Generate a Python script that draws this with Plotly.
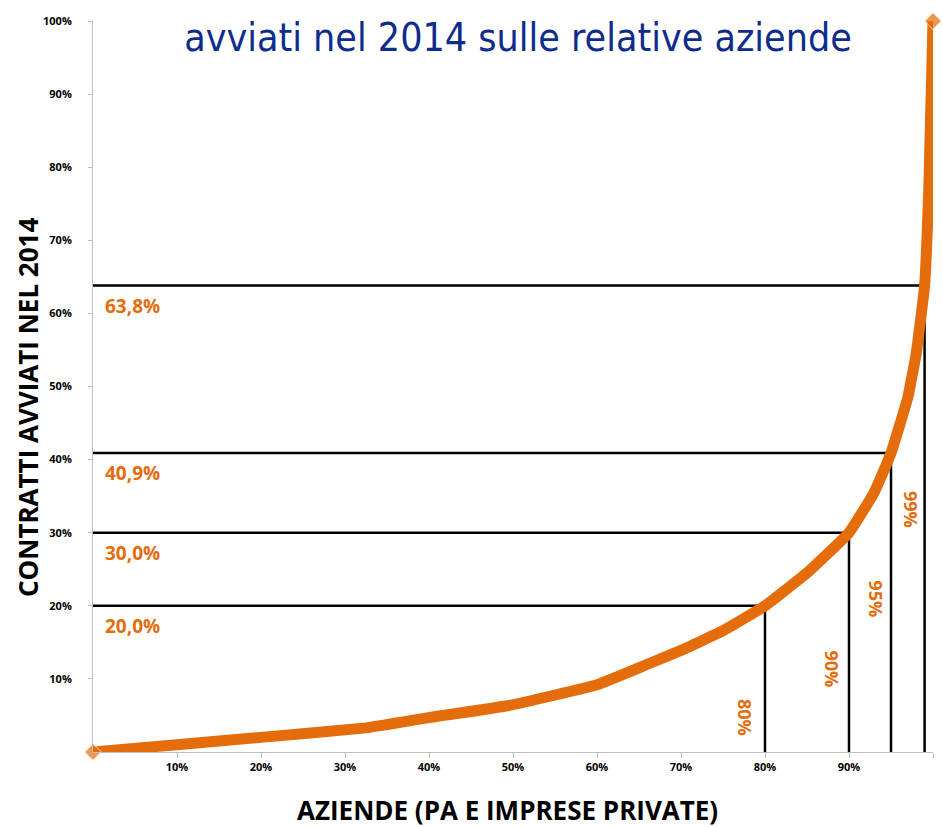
import plotly.graph_objects as go

# Cumulative share of firms (x) vs cumulative share of contracts started in 2014 (y)
aziende = [0, 10, 20, 32.5, 40, 49.7, 60, 66, 70, 75, 80, 85, 90, 93, 95, 97, 98, 99, 99.5, 100]
contratti = [0, 1.0, 2.0, 3.3, 4.7, 6.4, 9.2, 12.0, 13.9, 16.6, 20.0, 24.5, 30.0, 35.5, 40.9,
             48.5, 54.5, 63.8, 77.0, 100]

# Reference thresholds: firm percentile -> share of contracts
soglie_aziende = [80, 90, 95, 99]
soglie_contratti = [20.0, 30.0, 40.9, 63.8]
etichette_contratti = ["20,0%", "30,0%", "40,9%", "63,8%"]
etichette_aziende = ["80%", "90%", "95%", "99%"]

tick_vals = [10, 20, 30, 40, 50, 60, 70, 80, 90, 100]
tick_text = ["10%", "20%", "30%", "40%", "50%", "60%", "70%", "80%", "90%", "100%"]

ORANGE = "#E46C0A"
BLUE = "#0D2C8C"
FONT = "Open Sans"
W, H = 943, 827
L, R, T, B = 93, 10, 21, 75
PW, PH = W - L - R, H - T - B


def px_to_paper(px, py):
    """Convert a page pixel position to plot-area paper coordinates."""
    return (px - L) / PW, (H - B - py) / PH


fig = go.Figure()

marker_sizes = [13] + [0] * (len(aziende) - 2) + [13]
fig.add_trace(go.Scatter(
    x=aziende, y=contratti, mode="lines+markers",
    line=dict(color=ORANGE, width=11, shape="spline", smoothing=0.3),
    marker=dict(symbol="diamond", size=marker_sizes, color=ORANGE),
    cliponaxis=False, showlegend=False, hoverinfo="skip",
))

shapes = []
for xa, yc in zip(soglie_aziende, soglie_contratti):
    shapes.append(dict(type="line", xref="x", yref="y", x0=0, x1=xa, y0=yc, y1=yc,
                       line=dict(color="black", width=2.5), layer="below"))
    shapes.append(dict(type="line", xref="x", yref="y", x0=xa, x1=xa, y0=0, y1=yc,
                       line=dict(color="black", width=2.5), layer="below"))

annotations = []
for yc, lab in zip(soglie_contratti, etichette_contratti):
    annotations.append(dict(x=1.2, y=yc, xref="x", yref="y", text=lab, showarrow=False,
                            xanchor="left", yanchor="middle", yshift=-20,
                            font=dict(family=FONT, size=19, color=ORANGE, weight="bold")))

# rotated percentile labels beside each vertical line
rot_pos = [(77.7, 4.7), (88.0, 11.4), (93.2, 20.9), (97.3, 33.2)]
for (xp, yp), lab in zip(rot_pos, etichette_aziende):
    annotations.append(dict(x=xp, y=yp, xref="x", yref="y", text=lab, showarrow=False,
                            textangle=90, xanchor="center", yanchor="middle",
                            font=dict(family=FONT, size=18, color=ORANGE, weight="bold")))

# axis titles
ytx, yty = px_to_paper(28, 408)
annotations.append(dict(x=ytx, y=yty, xref="paper", yref="paper",
                        text="CONTRATTI AVVIATI NEL 2014", showarrow=False, textangle=-90,
                        xanchor="center", yanchor="middle",
                        font=dict(family=FONT, size=26, color="black", weight="bold")))
xtx, xty = px_to_paper(507, 810)
annotations.append(dict(x=xtx, y=xty, xref="paper", yref="paper",
                        text="AZIENDE (PA E IMPRESE PRIVATE)", showarrow=False,
                        xanchor="center", yanchor="middle",
                        font=dict(family=FONT, size=26, color="black", weight="bold")))

fig.update_layout(
    width=W, height=H,
    margin=dict(l=L, r=R, t=T, b=B, autoexpand=False),
    paper_bgcolor="white", plot_bgcolor="white",
    title=dict(text="avviati nel 2014 sulle relative aziende",
               x=518 / W, xref="container", xanchor="center",
               y=1 - 37 / H, yref="container", yanchor="middle",
               font=dict(family="DejaVu Sans Condensed, Liberation Sans Narrow, Roboto",
                         size=39, color=BLUE)),
    shapes=shapes, annotations=annotations,
    xaxis=dict(range=[0, 100], tickvals=tick_vals, ticktext=tick_text, automargin=False,
               showgrid=False, zeroline=False, showline=True, linecolor="#BFBFBF",
               linewidth=1, ticks="outside", ticklen=5, tickcolor="#BFBFBF",
               tickfont=dict(family=FONT, size=11, color="black", weight="bold")),
    yaxis=dict(range=[0, 100], tickvals=tick_vals, ticktext=tick_text, automargin=False,
               showgrid=False, zeroline=False, showline=True, linecolor="#BFBFBF",
               linewidth=1, ticks="outside", ticklen=4, tickcolor="#BFBFBF",
               ticklabelstandoff=14,
               tickfont=dict(family=FONT, size=11, color="black", weight="bold")),
)

fig.write_html("out.html")
